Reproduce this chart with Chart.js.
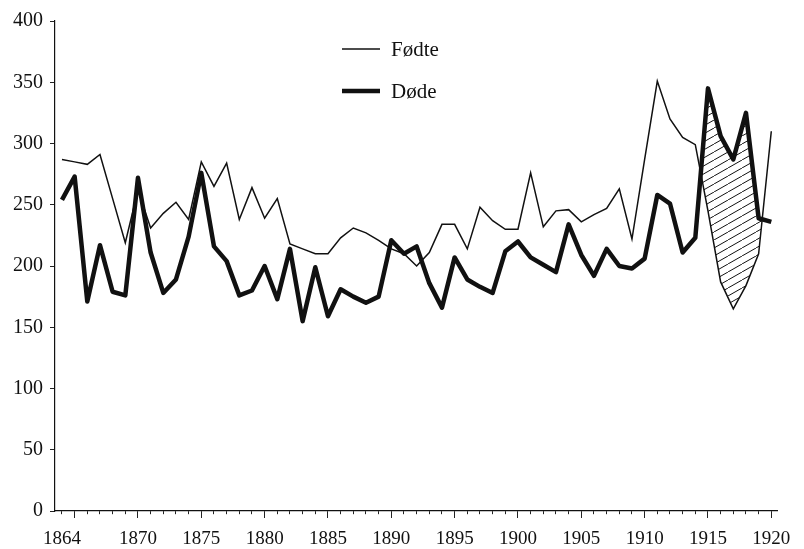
<!DOCTYPE html>
<html lang="no">
  <head>
    <meta charset="UTF-8" />
    <title>Fødte og døde</title>
    <style>
      html, body { margin: 0; padding: 0; background: #fff; }
      #wrap { width: 804px; height: 549px; }
    </style>
  </head>
  <body>
    <div id="wrap"><canvas id="chart" width="804" height="549"></canvas></div>
    <script src="https://cdn.jsdelivr.net/npm/chart.js@4/dist/chart.umd.min.js"></script>
    <script>
      // årstall 1864-1920
      var aar = [];
      for (var a = 1864; a <= 1920; a++) aar.push(a);

      var fodte = [
        287, 285, 283, 291, 255, 219, 262, 231, 243, 252,
        238, 285, 265, 284, 238, 264, 239, 255, 218, 214,
        210, 210, 223, 231, 227, 221, 214, 210, 200, 211,
        234, 234, 214, 248, 237, 230, 230, 276, 232, 245,
        246, 236, 242, 247, 263, 222, 287, 351, 320, 305,
        299, 245, 187, 165, 184, 210, 310
      ];

      var dode = [
        254, 273, 171, 217, 179, 176, 272, 211, 178, 189,
        224, 276, 216, 204, 176, 180, 200, 173, 214, 155,
        199, 159, 181, 175, 170, 175, 221, 210, 216, 186,
        166, 207, 189, 183, 178, 212, 220, 207, 201, 195,
        234, 209, 192, 214, 200, 198, 206, 258, 251, 211,
        223, 345, 306, 287, 325, 239, 236
      ];

      var yTicks = [0, 50, 100, 150, 200, 250, 300, 350, 400];
      var xLabelYears = [1864, 1870, 1875, 1880, 1885, 1890, 1895, 1900, 1905, 1910, 1915, 1920];
      var hatchFrom = 1914; // skravert felt: døde over fødte

      // skravering
      var pc = document.createElement('canvas');
      pc.width = 14;
      pc.height = 8;
      var pctx = pc.getContext('2d');
      pctx.strokeStyle = '#111';
      pctx.lineWidth = 1;
      pctx.beginPath();
      pctx.moveTo(-14, 16);
      pctx.lineTo(28, -8);
      pctx.stroke();
      var hatch = pctx.createPattern(pc, 'repeat');

      var serif = "'Liberation Serif', 'DejaVu Serif', serif";

      var legendPlugin = {
        id: 'egenLegend',
        afterDraw: function (chart) {
          var ctx = chart.ctx;
          var rows = [49, 91];
          var k = 0;
          ctx.save();
          chart.data.datasets.forEach(function (ds) {
            if (!ds.label) return;
            var y = rows[k++];
            ctx.strokeStyle = ds.borderColor;
            ctx.lineWidth = ds.borderWidth;
            ctx.beginPath();
            ctx.moveTo(342, y);
            ctx.lineTo(380, y);
            ctx.stroke();
            ctx.fillStyle = '#111';
            ctx.font = '21px ' + serif;
            ctx.textBaseline = 'middle';
            ctx.fillText(ds.label, 391, y + 1);
          });
          ctx.restore();
        }
      };

      new Chart(document.getElementById('chart'), {
        type: 'line',
        data: {
          datasets: [
            {
              data: aar.map(function (x, i) {
                return { x: x, y: x >= hatchFrom ? dode[i] : null };
              }),
              borderWidth: 0,
              borderColor: 'rgba(0,0,0,0)',
              pointRadius: 0,
              fill: { target: 1, above: hatch, below: 'rgba(0,0,0,0)' },
              order: 3
            },
            {
              label: 'Fødte',
              data: aar.map(function (x, i) { return { x: x, y: fodte[i] }; }),
              borderColor: '#111',
              borderWidth: 1.5,
              pointRadius: 0,
              fill: false,
              order: 2
            },
            {
              label: 'Døde',
              data: aar.map(function (x, i) { return { x: x, y: dode[i] }; }),
              borderColor: '#111',
              borderWidth: 4.5,
              borderJoinStyle: 'round',
              pointRadius: 0,
              fill: false,
              order: 1
            }
          ]
        },
        options: {
          responsive: false,
          animation: false,
          layout: { padding: { top: 21, right: 27, left: 0, bottom: 0 } },
          plugins: {
            legend: { display: false },
            tooltip: { enabled: false }
          },
          scales: {
            x: {
              type: 'linear',
              min: 1863.45,
              max: 1920.45,
              afterBuildTicks: function (scale) {
                scale.ticks = aar.map(function (v) { return { value: v }; });
              },
              afterFit: function (scale) { scale.height = 38; },
              grid: {
                drawOnChartArea: false,
                tickLength: 7,
                tickColor: '#222',
                tickBorderDash: function (ctx) {
                  var v = ctx.tick ? ctx.tick.value : 0;
                  return v % 5 === 0 ? [] : [3, 20];
                }
              },
              border: { display: true, color: '#111', width: 1.2 },
              ticks: {
                autoSkip: false,
                maxRotation: 0,
                padding: 10,
                color: '#111',
                font: { family: serif, size: 19 },
                callback: function (v) {
                  return xLabelYears.indexOf(v) >= 0 ? String(v) : '';
                }
              }
            },
            y: {
              min: 0,
              max: 400,
              afterBuildTicks: function (scale) {
                scale.ticks = yTicks.map(function (v) { return { value: v }; });
              },
              afterFit: function (scale) { scale.width = 55; },
              grid: {
                drawOnChartArea: false,
                tickLength: 5,
                tickColor: '#222'
              },
              border: { display: true, color: '#111', width: 1.2 },
              ticks: {
                padding: 7,
                color: '#111',
                font: { family: serif, size: 20 }
              }
            }
          }
        },
        plugins: [legendPlugin]
      });
    </script>
  </body>
</html>
